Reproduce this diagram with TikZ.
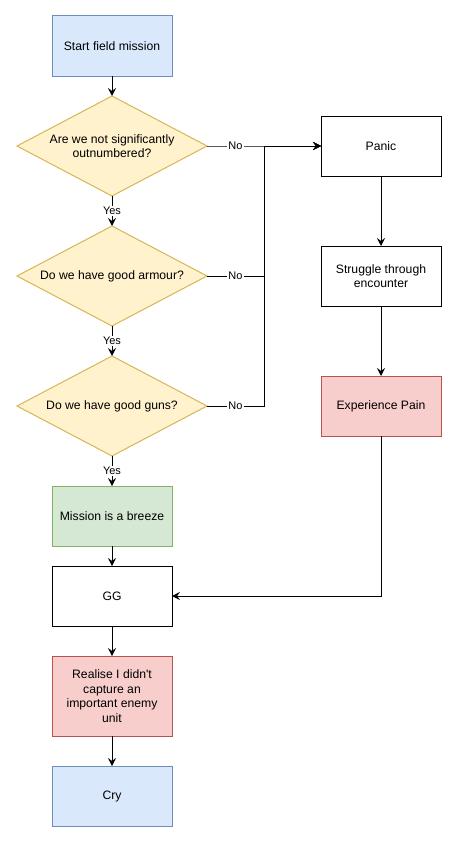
\documentclass[tikz,border=0pt]{standalone}
\usepackage{fontspec}
\setmainfont{Liberation Sans}
\usetikzlibrary{arrows.meta,positioning,shapes.geometric}
\definecolor{bluefill}{HTML}{DAE8FC}
\definecolor{blueline}{HTML}{6C8EBF}
\definecolor{yellowfill}{HTML}{FFF2CC}
\definecolor{yellowline}{HTML}{D6B656}
\definecolor{greenfill}{HTML}{D5E8D4}
\definecolor{greenline}{HTML}{82B366}
\definecolor{redfill}{HTML}{F8CECC}
\definecolor{redline}{HTML}{B85450}
\newcommand{\flowfont}{\fontsize{12.2pt}{14.5pt}\selectfont}
\newcommand{\tagfont}{\fontsize{11pt}{13pt}\selectfont}
\tikzset{
  boxnode/.style={draw,line width=1pt,outer sep=0pt,minimum width=120pt,minimum height=60pt,inner sep=2pt,align=center,font=\flowfont},
  startnode/.style={boxnode,draw=blueline,fill=bluefill},
  goodnode/.style={boxnode,draw=greenline,fill=greenfill},
  painnode/.style={boxnode,draw=redline,fill=redfill},
  decisionnode/.style={diamond,draw=yellowline,fill=yellowfill,line width=1pt,outer sep=0pt,minimum width=190pt,minimum height=100pt,shape aspect=1.9,inner sep=0pt,align=center,font=\flowfont},
  arrow/.style={-{Stealth[length=8pt,width=8pt,inset=3pt]},line width=1pt},
  edgelabel/.style={fill=white,inner sep=1pt,font=\tagfont}
}
\begin{document}
\begin{tikzpicture}[x=1pt,y=-1pt]
  \useasboundingbox (0,0) rectangle (458,843);

  % Left column
  \node[startnode] (start) at (112,46) {Start field mission};
  \node[decisionnode,below=20pt of start] (armyq) {Are we not significantly\\outnumbered?};
  \node[decisionnode,below=30pt of armyq] (armourq) {Do we have good armour?};
  \node[decisionnode,below=30pt of armourq] (gunsq) {Do we have good guns?};
  \node[goodnode,below=30pt of gunsq] (breeze) {Mission is a breeze};
  \node[boxnode,below=20pt of breeze] (gg) {GG};
  \node[painnode,below=30pt of gg,minimum height=80pt] (realise) {Realise I didn\textquotesingle t\\capture an\\important enemy\\unit};
  \node[startnode,below=30pt of realise] (cry) {Cry};

  % Right column
  \node[boxnode,right=114pt of armyq] (panic) {Panic};
  \node[boxnode,below=70pt of panic] (struggle) {Struggle through\\encounter};
  \node[painnode,below=70pt of struggle] (pain) {Experience Pain};

  \coordinate (merge) at (264,146);

  \draw[arrow] (start) -- (armyq);
  \draw[arrow] (armyq) -- node[edgelabel] {Yes} (armourq);
  \draw[arrow] (armourq) -- node[edgelabel] {Yes} (gunsq);
  \draw[arrow] (gunsq) -- node[edgelabel] {Yes} (breeze);
  \draw[arrow] (breeze) -- (gg);
  \draw[arrow] (gg) -- (realise);
  \draw[arrow] (realise) -- (cry);

  \draw[arrow] (armyq.east) -- node[edgelabel] {No} (merge) -- (panic.west);
  \draw[arrow] (armourq.east) -- node[edgelabel] {No} (armourq.east -| merge) -- (merge) -- (panic.west);
  \draw[arrow] (gunsq.east) -- node[edgelabel] {No} (gunsq.east -| merge) -- (merge) -- (panic.west);

  \draw[arrow] (panic) -- (struggle);
  \draw[arrow] (struggle) -- (pain);
  \draw[arrow] (pain.south) |- (gg.east);
\end{tikzpicture}
\end{document}
